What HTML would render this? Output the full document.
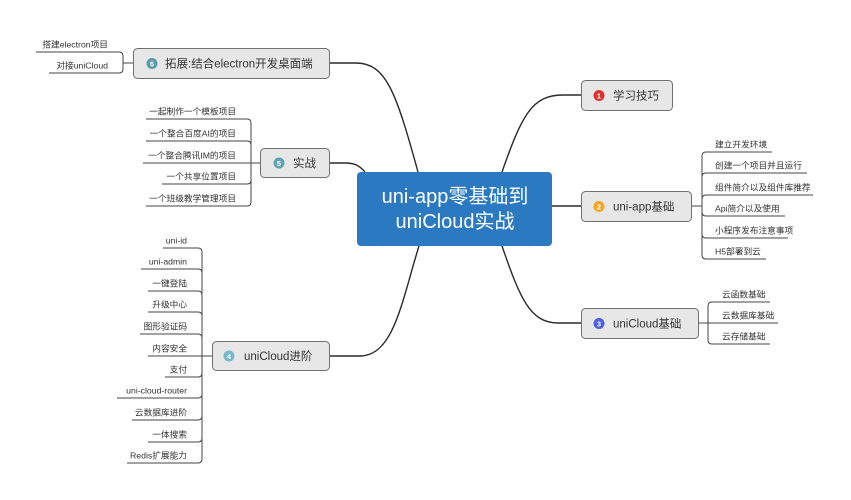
<!DOCTYPE html>
<html><head><meta charset="utf-8"><style>
html,body{margin:0;padding:0;background:#fff;}
svg{display:block;}
text{font-family:"Liberation Sans","Noto Sans CJK SC",sans-serif;}
.it{font-size:8.7px;fill:#333;}
.nt{font-size:11.5px;fill:#333;}
.bn{font-size:7.5px;fill:#fff;font-weight:bold;}
.ln{fill:none;stroke:#444;stroke-width:1;}
.mc{fill:none;stroke:#2a2a2a;stroke-width:1.4;}
.nd{fill:#e7e7e7;stroke:#707070;stroke-width:1;}
</style></head><body>
<svg width="851" height="500" viewBox="0 0 851 500" xmlns="http://www.w3.org/2000/svg">
<!-- main connectors -->
<path class="mc" d="M502,172 C522,115 532,95 563,95 L581,95"/>
<path class="mc" d="M552,206 L581,206"/>
<path class="mc" d="M502,246 C520,298 530,323 558,323 L581,323"/>
<path class="mc" d="M419,246 C402,300 394,356 360,356 L330,356"/>
<path class="mc" d="M365,172 C359,165 354,163 345,163 L330,163"/>
<path class="mc" d="M418,172 C396,92 386,63 356,63 L330,63"/>

<!-- center -->
<rect x="357" y="172" width="195" height="74" rx="4" fill="#2a79c1"/>
<text x="455" y="203" text-anchor="middle" font-size="20" fill="#fff">uni-app零基础到</text>
<text x="455" y="228" text-anchor="middle" font-size="20" fill="#fff">uniCloud实战</text>

<!-- node 1 -->
<rect class="nd" x="581.5" y="80.5" width="91" height="30" rx="4"/>
<circle cx="599" cy="95.5" r="5.5" fill="#d9322f"/>
<text class="bn" x="599" y="98.3" text-anchor="middle">1</text>
<text class="nt" x="613" y="99.5">学习技巧</text>

<!-- node 2 -->
<rect class="nd" x="581.5" y="191.5" width="110" height="30" rx="4"/>
<circle cx="599" cy="206.5" r="5.5" fill="#f5a623"/>
<text class="bn" x="599" y="209.3" text-anchor="middle">2</text>
<text class="nt" x="613" y="210.5">uni-app基础</text>
<path class="ln" d="M692,206 L702,206"/>
<g>
<path class="ln" d="M702,206 L702,156 Q702,152 706,152 L772,152"/>
<path class="ln" d="M702,206 L702,177 Q702,173 706,173 L807,173"/>
<path class="ln" d="M702,206 L702,199 Q702,195 706,195 L813,195"/>
<path class="ln" d="M702,206 L702,212 Q702,216 706,216 L785,216"/>
<path class="ln" d="M702,206 L702,234 Q702,238 706,238 L788,238"/>
<path class="ln" d="M702,206 L702,255 Q702,259 706,259 L766,259"/>
</g>
<text class="it" x="715" y="147.5">建立开发环境</text>
<text class="it" x="715" y="168.5">创建一个项目并且运行</text>
<text class="it" x="715" y="190.5">组件简介以及组件库推荐</text>
<text class="it" x="715" y="211.5">Api简介以及使用</text>
<text class="it" x="715" y="233.5">小程序发布注意事项</text>
<text class="it" x="715" y="254.5">H5部署到云</text>

<!-- node 3 -->
<rect class="nd" x="581.5" y="308.5" width="117" height="30" rx="4"/>
<circle cx="599" cy="323.5" r="5.5" fill="#4f5fe0"/>
<text class="bn" x="599" y="326.3" text-anchor="middle">3</text>
<text class="nt" x="613" y="327.5">uniCloud基础</text>
<path class="ln" d="M699,323 L778,323"/>
<path class="ln" d="M708,323 L708,306 Q708,302 712,302 L770,302"/>
<path class="ln" d="M708,323 L708,340 Q708,344 712,344 L770,344"/>
<text class="it" x="722" y="297.5">云函数基础</text>
<text class="it" x="722" y="318.5">云数据库基础</text>
<text class="it" x="722" y="339.5">云存储基础</text>

<!-- node 6 -->
<rect class="nd" x="133.5" y="48.5" width="196" height="30" rx="4"/>
<circle cx="152" cy="63.5" r="5.5" fill="#5a9bab"/>
<text class="bn" x="152" y="66.3" text-anchor="middle">6</text>
<text class="nt" x="165" y="67.5">拓展:结合electron开发桌面端</text>
<path class="ln" d="M133,63 L123,63"/>
<path class="ln" d="M123,63 L123,56 Q123,52 119,52 L36,52"/>
<path class="ln" d="M123,63 L123,69 Q123,73 119,73 L49,73"/>
<text class="it" x="108" y="47.5" text-anchor="end">搭建electron项目</text>
<text class="it" x="108" y="68.5" text-anchor="end">对接uniCloud</text>

<!-- node 5 -->
<rect class="nd" x="260.5" y="148.5" width="69" height="29" rx="4"/>
<circle cx="279" cy="163" r="5.5" fill="#5fa3b3"/>
<text class="bn" x="279" y="165.8" text-anchor="middle">5</text>
<text class="nt" x="293" y="167">实战</text>
<path class="ln" d="M260,163 L143,163"/>
<path class="ln" d="M251,163 L251,123 Q251,119 247,119 L146,119"/>
<path class="ln" d="M251,163 L251,145 Q251,141 247,141 L146,141"/>
<path class="ln" d="M251,163 L251,180 Q251,184 247,184 L162,184"/>
<path class="ln" d="M251,163 L251,202 Q251,206 247,206 L146,206"/>
<text class="it" x="236" y="114.5" text-anchor="end">一起制作一个模板项目</text>
<text class="it" x="236" y="136.5" text-anchor="end">一个整合百度AI的项目</text>
<text class="it" x="236" y="158.5" text-anchor="end">一个整合腾讯IM的项目</text>
<text class="it" x="236" y="179.5" text-anchor="end">一个共享位置项目</text>
<text class="it" x="236" y="201.5" text-anchor="end">一个班级教学管理项目</text>

<!-- node 4 -->
<rect class="nd" x="212.5" y="341.5" width="117" height="29" rx="4"/>
<circle cx="229" cy="356" r="5.5" fill="#7ab8c9"/>
<text class="bn" x="229" y="358.8" text-anchor="middle">4</text>
<text class="nt" x="244" y="360">uniCloud进阶</text>
<path class="ln" d="M212,356 L148,356"/>
<path class="ln" d="M202,356 L202,252 Q202,248 198,248 L163,248"/>
<path class="ln" d="M202,356 L202,273 Q202,269 198,269 L141,269"/>
<path class="ln" d="M202,356 L202,295 Q202,291 198,291 L148,291"/>
<path class="ln" d="M202,356 L202,316 Q202,312 198,312 L148,312"/>
<path class="ln" d="M202,356 L202,338 Q202,334 198,334 L140,334"/>
<path class="ln" d="M202,356 L202,373 Q202,377 198,377 L165,377"/>
<path class="ln" d="M202,356 L202,394 Q202,398 198,398 L117,398"/>
<path class="ln" d="M202,356 L202,416 Q202,420 198,420 L132,420"/>
<path class="ln" d="M202,356 L202,438 Q202,442 198,442 L148,442"/>
<path class="ln" d="M202,356 L202,459 Q202,463 198,463 L127,463"/>
<text class="it" x="187" y="243.5" text-anchor="end">uni-id</text>
<text class="it" x="187" y="264.5" text-anchor="end">uni-admin</text>
<text class="it" x="187" y="286.5" text-anchor="end">一键登陆</text>
<text class="it" x="187" y="307.5" text-anchor="end">升级中心</text>
<text class="it" x="187" y="329.5" text-anchor="end">图形验证码</text>
<text class="it" x="187" y="351.5" text-anchor="end">内容安全</text>
<text class="it" x="187" y="372.5" text-anchor="end">支付</text>
<text class="it" x="187" y="393.5" text-anchor="end">uni-cloud-router</text>
<text class="it" x="187" y="415.5" text-anchor="end">云数据库进阶</text>
<text class="it" x="187" y="437.5" text-anchor="end">一体搜索</text>
<text class="it" x="187" y="458.5" text-anchor="end">Redis扩展能力</text>
</svg>
</body></html>
